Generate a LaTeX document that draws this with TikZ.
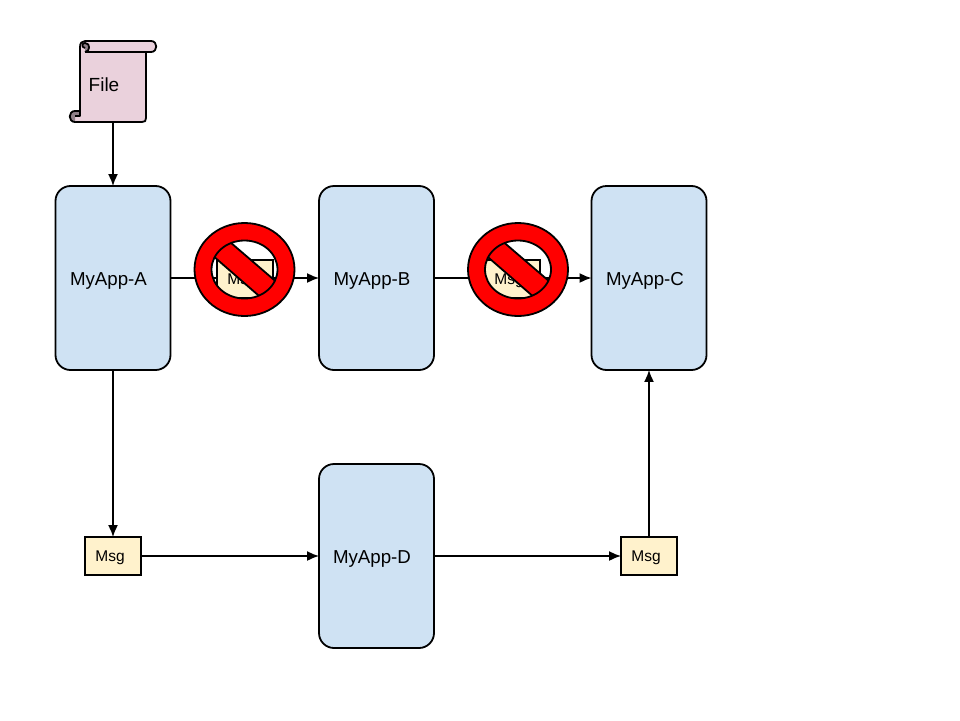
\documentclass[tikz,border=0pt]{standalone}
\usepackage{fontspec}
\setmainfont{Liberation Sans}
\usetikzlibrary{arrows.meta}
\definecolor{appblue}{HTML}{CFE2F3}
\definecolor{msgyellow}{HTML}{FFF2CC}
\definecolor{filepink}{HTML}{EAD1DC}
\definecolor{curlgrey}{HTML}{8F8088}
\tikzset{
  app/.style={draw=black,line width=1.8pt,fill=appblue,rounded corners=15pt,minimum width=115pt,minimum height=184pt,inner sep=0pt,font=\fontsize{18.7}{20}\selectfont},
  msgbox/.style={draw=black,line width=1.8pt,fill=msgyellow,minimum width=56pt,minimum height=38pt,inner sep=0pt,font=\fontsize{15.5}{16}\selectfont},
  conn/.style={draw=black,line width=1.8pt,-{Latex[length=12pt,width=10pt]},shorten >=-1pt},
  filenode/.style={minimum width=67pt,minimum height=81pt,inner sep=0pt,font=\fontsize{19}{20}\selectfont},
  scrollline/.style={draw=black,line width=1.8pt,line join=round},
}
\newcommand{\nudged}[3]{\raisebox{-#2pt}[0pt][0pt]{#1}\kern#3pt\relax}
\newcommand{\nosign}[2]{%
  \begin{scope}[shift={(#1,#2)}]
    \fill[red,even odd rule] (0,0) ellipse [x radius=50,y radius=46.5] (0,0) ellipse [x radius=33,y radius=29];
    \begin{scope}
      \clip (0,0) ellipse [x radius=33,y radius=29];
      \filldraw[fill=red,draw=black,line width=1.8pt] (-35.5,-45.5) -- (53,30.5) -- (37,46) -- (-52,-31.5) -- cycle;
    \end{scope}
    \draw[black,line width=1.8pt] (0,0) ellipse [x radius=50,y radius=46.5];
    \draw[black,line width=1.8pt] (0,0) ellipse [x radius=33,y radius=29];
  \end{scope}}
\begin{document}
\begin{tikzpicture}[x=1pt,y=-1pt]
\useasboundingbox (0,0) rectangle (960,720);
% scroll
\path[fill=filepink] (85,41) -- (151,41) .. controls (158,41) and (158,52) .. (151,52) -- (146,52) -- (146,118) .. controls (146,121) and (145,122) .. (142,122) -- (75,122) -- (75,111) -- (80,111) -- (80,47) .. controls (80,43) and (82,41) .. (85,41) -- cycle;
\draw[scrollline] (85,41) -- (151,41) .. controls (158,41) and (158,52) .. (151,52) -- (85,52);
\draw[scrollline] (80,111) -- (80,47) .. controls (80,43) and (82,41) .. (85,41);
\draw[scrollline] (146,52) -- (146,118) .. controls (146,121) and (145,122) .. (142,122) -- (75,122);
\draw[scrollline,fill=curlgrey] (75,122) .. controls (68,122) and (68,111) .. (75,111) -- (80,111) -- (80,116) -- (75,116);
\draw[scrollline,fill=curlgrey] (85,52) .. controls (90,52) and (91,43) .. (85,43) .. controls (82,43) and (81,47) .. (85,48);
\node[filenode] (file) at (113,81.5) {\nudged{File}{9.8}{18}};
\node[app] (a) at (113,278) {\nudged{MyApp-A}{7.7}{9}};
\node[app] (b) at (376.5,278) {\nudged{MyApp-B}{7.7}{9}};
\node[app] (c) at (649,278) {\nudged{MyApp-C}{7.7}{8}};
\node[app] (d) at (376.5,556) {\nudged{MyApp-D}{7.2}{9}};
\node[msgbox] (m1) at (113,556) {\nudged{Msg}{5.4}{6}};
\node[msgbox] (m2) at (649,556) {\nudged{Msg}{5.4}{6}};
\draw[conn] (a.east) -- (b.west);
\draw[conn] (b.east) -- (c.west);
\node[msgbox] (m3) at (245,279) {\nudged{Msg}{5.4}{6}};
\node[msgbox] (m4) at (512,279) {\nudged{Msg}{5.4}{6}};
\nosign{244.5}{269.5}
\nosign{518}{269.5}
\draw[conn] (file.south) -- (a.north);
\draw[conn] (a.south) -- (m1.north);
\draw[conn] (m1.east) -- (d.west);
\draw[conn] (d.east) -- (m2.west);
\draw[conn] (m2.north) -- (c.south);
\end{tikzpicture}
\end{document}
